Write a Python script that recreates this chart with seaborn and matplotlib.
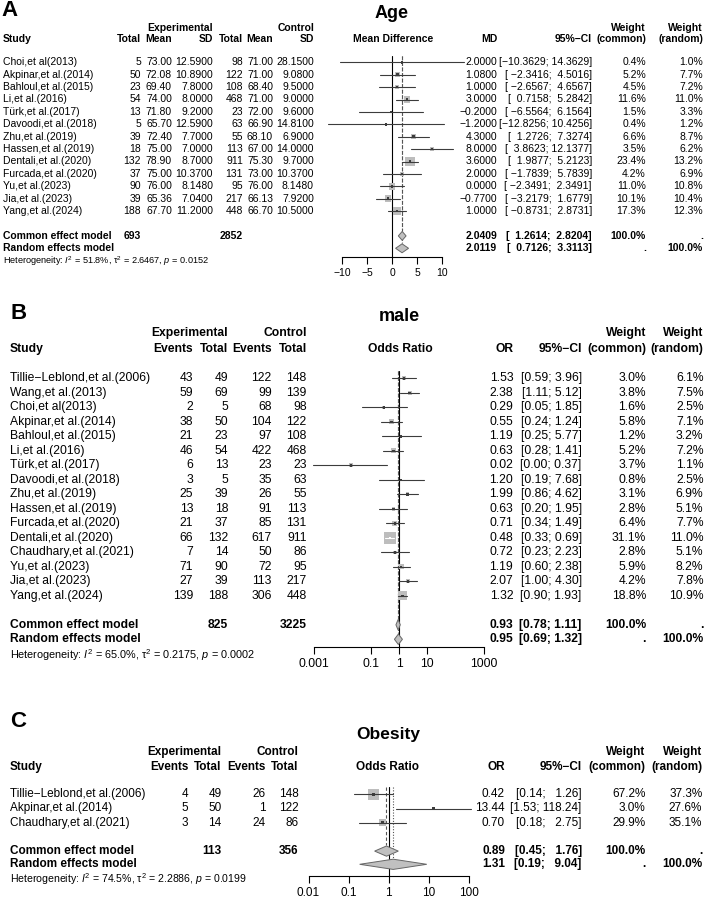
import numpy as np
import matplotlib.pyplot as plt
import matplotlib.transforms as mtransforms
from matplotlib.ticker import NullLocator
import seaborn as sns

M = "\u2212"

# ---------------- A : Age (mean difference) ----------------
studies_a = ["Choi,et al(2013)", "Akpinar,et al.(2014)", "Bahloul,et al.(2015)", "Li,et al.(2016)",
             "Türk,et al.(2017)", "Davoodi,et al.(2018)", "Zhu,et al.(2019)", "Hassen,et al.(2019)",
             "Dentali,et al.(2020)", "Furcada,et al.(2020)", "Yu,et al.(2023)", "Jia,et al.(2023)",
             "Yang,et al.(2024)"]
n_e_a = [5, 50, 23, 54, 13, 5, 39, 18, 132, 37, 90, 39, 188]
mean_e_a = [73.00, 72.08, 69.40, 74.00, 71.80, 65.70, 72.40, 75.00, 78.90, 75.00, 76.00, 65.36, 67.70]
sd_e_a = [12.59, 10.89, 7.80, 8.00, 9.20, 12.59, 7.70, 7.00, 8.70, 10.37, 8.148, 7.04, 11.20]
n_c_a = [98, 122, 108, 468, 23, 63, 55, 113, 911, 131, 95, 217, 448]
mean_c_a = [71.00, 71.00, 68.40, 71.00, 72.00, 66.90, 68.10, 67.00, 75.30, 73.00, 76.00, 66.13, 66.70]
sd_c_a = [28.15, 9.08, 9.50, 9.00, 9.60, 14.81, 6.90, 14.00, 9.70, 10.37, 8.148, 7.92, 10.50]
md_a = [2.0, 1.08, 1.0, 3.0, -0.2, -1.2, 4.3, 8.0, 3.6, 2.0, 0.0, -0.77, 1.0]
lo_a = [-10.3629, -2.3416, -2.6567, 0.7158, -6.5564, -12.8256, 1.2726, 3.8623, 1.9877, -1.7839,
        -2.3491, -3.2179, -0.8731]
hi_a = [14.3629, 4.5016, 4.6567, 5.2842, 6.1564, 10.4256, 7.3274, 12.1377, 5.2123, 5.7839,
        2.3491, 1.6779, 2.8731]
wc_a = [0.4, 5.2, 4.5, 11.6, 1.5, 0.4, 6.6, 3.5, 23.4, 4.2, 11.0, 10.1, 17.3]
wr_a = [1.0, 7.7, 7.2, 11.0, 3.3, 1.2, 8.7, 6.2, 13.2, 6.9, 10.8, 10.4, 12.3]
sum_est_a = [2.0409, 2.0119]
sum_lo_a = [1.2614, 0.7126]
sum_hi_a = [2.8204, 3.3113]
tot_a = [693, 2852]
het_a = ["51.8%", "2.6467", "0.0152"]

# ---------------- B : male (odds ratio) ----------------
studies_b = ["Tillie" + M + "Leblond,et al.(2006)", "Wang,et al.(2013)", "Choi,et al(2013)",
             "Akpinar,et al.(2014)", "Bahloul,et al.(2015)", "Li,et al.(2016)", "Türk,et al.(2017)",
             "Davoodi,et al.(2018)", "Zhu,et al.(2019)", "Hassen,et al.(2019)", "Furcada,et al.(2020)",
             "Dentali,et al.(2020)", "Chaudhary,et al.(2021)", "Yu,et al.(2023)", "Jia,et al.(2023)",
             "Yang,et al.(2024)"]
ev_e_b = [43, 59, 2, 38, 21, 46, 6, 3, 25, 13, 21, 66, 7, 71, 27, 139]
n_e_b = [49, 69, 5, 50, 23, 54, 13, 5, 39, 18, 37, 132, 14, 90, 39, 188]
ev_c_b = [122, 99, 68, 104, 97, 422, 23, 35, 26, 91, 85, 617, 50, 72, 113, 306]
n_c_b = [148, 139, 98, 122, 108, 468, 23, 63, 55, 113, 131, 911, 86, 95, 217, 448]
or_b = [1.53, 2.38, 0.29, 0.55, 1.19, 0.63, 0.02, 1.20, 1.99, 0.63, 0.71, 0.48, 0.72, 1.19, 2.07, 1.32]
lo_b = [0.59, 1.11, 0.05, 0.24, 0.25, 0.28, 0.0009, 0.19, 0.86, 0.20, 0.34, 0.33, 0.23, 0.60, 1.00, 0.90]
hi_b = [3.96, 5.12, 1.85, 1.24, 5.77, 1.41, 0.37, 7.68, 4.62, 1.95, 1.49, 0.69, 2.23, 2.38, 4.30, 1.93]
wc_b = [3.0, 3.8, 1.6, 5.8, 1.2, 5.2, 3.7, 0.8, 3.1, 2.8, 6.4, 31.1, 2.8, 5.9, 4.2, 18.8]
wr_b = [6.1, 7.5, 2.5, 7.1, 3.2, 7.2, 1.1, 2.5, 6.9, 5.1, 7.7, 11.0, 5.1, 8.2, 7.8, 10.9]
sum_est_b = [0.93, 0.95]
sum_lo_b = [0.78, 0.69]
sum_hi_b = [1.11, 1.32]
tot_b = [825, 3225]
het_b = ["65.0%", "0.2175", "0.0002"]

# ---------------- C : Obesity (odds ratio) ----------------
studies_c = ["Tillie" + M + "Leblond,et al.(2006)", "Akpinar,et al.(2014)", "Chaudhary,et al.(2021)"]
ev_e_c = [4, 5, 3]
n_e_c = [49, 50, 14]
ev_c_c = [26, 1, 24]
n_c_c = [148, 122, 86]
or_c = [0.42, 13.44, 0.70]
lo_c = [0.14, 1.53, 0.18]
hi_c = [1.26, 118.24, 2.75]
wc_c = [67.2, 3.0, 29.9]
wr_c = [37.3, 27.6, 35.1]
sum_est_c = [0.89, 1.31]
sum_lo_c = [0.45, 0.19]
sum_hi_c = [1.76, 9.04]
tot_c = [113, 356]
het_c = ["74.5%", "2.2886", "0.0199"]

sns.set_theme(style="ticks")
plt.rcParams["font.family"] = ["Liberation Sans", "DejaVu Sans"]
plt.rcParams["mathtext.fontset"] = "custom"
plt.rcParams["mathtext.rm"] = "Liberation Sans"
plt.rcParams["mathtext.it"] = "Liberation Sans:italic"
plt.rcParams["mathtext.bf"] = "Liberation Sans:bold"

W, H = 706, 898
fig = plt.figure(figsize=(W / 100, H / 100), dpi=100)


def fmt(v, d):
    return f"{v:.{d}f}".replace("-", M)


def ci_strings(lo, hi, d):
    los = [fmt(v, d) for v in lo]
    his = [fmt(v, d) for v in hi]
    wl = max(len(s) for s in los)
    wh = max(len(s) for s in his)
    return ["[" + a.rjust(wl) + "; " + b.rjust(wh) + "]" for a, b in zip(los, his)]


def make_ax(px0, px1, y0, dy, r_top, r_bot, log=False):
    ax = fig.add_axes([px0 / W, 1 - (y0 + r_bot * dy) / H, (px1 - px0) / W, (r_bot - r_top) * dy / H])
    if log:
        ax.set_xscale("log")
    ax.set_ylim(r_bot, r_top)
    ax.patch.set_alpha(0)
    for s in ["top", "left", "right"]:
        ax.spines[s].set_visible(False)
    ax.set_yticks([])
    return ax


def put(ax, px, row, s, size, ha="right", bold=False):
    tr = mtransforms.blended_transform_factory(fig.transFigure, ax.transData)
    ax.text(px / W, row, s, transform=tr, ha=ha, va="center", fontsize=size,
            fontweight="bold" if bold else "normal", color="black", clip_on=False)


def forest(ax, est, lo, hi, w, dy, null, common, random, r_common, r_random, r_axis):
    rows = np.arange(len(est))
    side = 0.8 * dy * np.sqrt(np.asarray(w) / max(w))
    ax.scatter(est, rows, s=(side * 0.72) ** 2, marker="s", color="#bdbdbd", linewidths=0,
               zorder=2, clip_on=False)
    cols = []
    for i in rows:
        xa = ax.transData.transform((lo[i], i))[0]
        xb = ax.transData.transform((hi[i], i))[0]
        c = "white" if (xb - xa) < side[i] else "#3c3c3c"
        cols.append(c)
        ax.plot([lo[i], hi[i]], [i, i], color=c, lw=0.8, zorder=3, clip_on=False)
    ax.scatter(est, rows, s=3, marker="s", color=cols, linewidths=0, zorder=4, clip_on=False)
    for r, (e, l, h) in [(r_common, common), (r_random, random)]:
        ax.fill([l, e, h, e], [r, r - 0.36, r, r + 0.36], facecolor="#c0c0c0", edgecolor="#666666",
                lw=0.7, zorder=3, clip_on=False)
    ax.plot([null, null], [-0.5, r_axis], color="black", lw=0.8, zorder=1, clip_on=False)
    ax.plot([common[0]] * 2, [-0.5, r_common - 0.4], color="#555555", lw=0.8, ls=(0, (3, 2)),
            zorder=1, clip_on=False)
    ax.plot([random[0]] * 2, [-0.5, r_random - 0.4], color="#555555", lw=0.8, ls=(0, (1, 1.5)),
            zorder=1, clip_on=False)


def x_axis(ax, r_axis, ticks, labels, size):
    sp = ax.spines["bottom"]
    sp.set_position(("data", r_axis))
    sp.set_bounds(ticks[0], ticks[-1])
    sp.set_color("black")
    sp.set_linewidth(0.8)
    ax.set_xticks(ticks)
    ax.set_xticklabels(labels)
    ax.xaxis.set_minor_locator(NullLocator())
    ax.tick_params(axis="x", bottom=True, direction="out", length=5, width=0.8, color="black",
                   labelsize=size, pad=3, labelcolor="black")


def het_text(ax, px, row, h, size):
    s = (r"Heterogeneity: $I^2$ = " + h[0] + r", $\mathrm{\tau}^2$ = " + h[1] + r", $p$ = " + h[2])
    put(ax, px, row, s, size, ha="left")


# ======== panel A ========
ya, da = 62.3, 12.4
ax_a = make_ax(315, 475, ya, da, -5, 18)
ax_a.set_xlim((315 - 392) / 5, (475 - 392) / 5)
fs = 7.5
put(ax_a, 1, -4.2, "A", 16, ha="left", bold=True)
put(ax_a, 392, -3.97, "Age", 13, ha="center", bold=True)
for px, s in [(213, "Experimental"), (314, "Control"), (646, "Weight"), (703, "Weight")]:
    put(ax_a, px, -2.77, s, fs, bold=True)
put(ax_a, 3, -1.88, "Study", fs, ha="left", bold=True)
put(ax_a, 393, -1.88, "Mean Difference", fs, ha="center", bold=True)
for px, s in [(141, "Total"), (172, "Mean"), (213, "SD"), (243, "Total"), (273, "Mean"), (314, "SD"),
              (497, "MD"), (592, "95%" + M + "CI"), (646, "(common)"), (703, "(random)")]:
    put(ax_a, px, -1.88, s, fs, bold=True)
ci_a = ci_strings(lo_a + sum_lo_a, hi_a + sum_hi_a, 4)
for i, name in enumerate(studies_a):
    put(ax_a, 3, i, name, fs, ha="left")
    put(ax_a, 141, i, str(n_e_a[i]), fs)
    put(ax_a, 172, i, fmt(mean_e_a[i], 2), fs)
    put(ax_a, 213, i, fmt(sd_e_a[i], 4), fs)
    put(ax_a, 243, i, str(n_c_a[i]), fs)
    put(ax_a, 273, i, fmt(mean_c_a[i], 2), fs)
    put(ax_a, 314, i, fmt(sd_c_a[i], 4), fs)
    put(ax_a, 497, i, fmt(md_a[i], 4), fs)
    put(ax_a, 592, i, ci_a[i], fs)
    put(ax_a, 646, i, fmt(wc_a[i], 1) + "%", fs)
    put(ax_a, 703, i, fmt(wr_a[i], 1) + "%", fs)
rc, rr = 14, 15
put(ax_a, 3, rc, "Common effect model", fs, ha="left", bold=True)
put(ax_a, 141, rc, str(tot_a[0]), fs, bold=True)
put(ax_a, 243, rc, str(tot_a[1]), fs, bold=True)
put(ax_a, 3, rr, "Random effects model", fs, ha="left", bold=True)
for k, r in enumerate([rc, rr]):
    put(ax_a, 497, r, fmt(sum_est_a[k], 4), fs, bold=True)
    put(ax_a, 592, r, ci_a[len(studies_a) + k], fs, bold=True)
put(ax_a, 646, rc, "100.0%", fs, bold=True)
put(ax_a, 703, rc, ".", fs, bold=True)
put(ax_a, 646, rr, ".", fs, bold=True)
put(ax_a, 703, rr, "100.0%", fs, bold=True)
het_text(ax_a, 3, 16.02, het_a, 6.6)
forest(ax_a, md_a, lo_a, hi_a, wc_a, da, 0,
       (sum_est_a[0], sum_lo_a[0], sum_hi_a[0]), (sum_est_a[1], sum_lo_a[1], sum_hi_a[1]), rc, rr, 15.7)
ticks_a = [-10, -5, 0, 5, 10]
x_axis(ax_a, 15.7, ticks_a, [fmt(t, 0) for t in ticks_a], fs)

# ======== panel B ========
yb, db = 378.3, 14.5
kb = 28.4
ax_b = make_ax(300, 495, yb, db, -5, 21, log=True)
ax_b.set_xlim(10 ** ((300 - 399) / kb), 10 ** ((495 - 399) / kb))
fs = 8.7
put(ax_b, 10, -4.5, "B", 16, ha="left", bold=True)
put(ax_b, 399, -4.23, "male", 13, ha="center", bold=True)
for px, s in [(228.3, "Experimental"), (306.7, "Control"), (646, "Weight"), (703.5, "Weight")]:
    put(ax_b, px, -3.12, s, fs, bold=True)
put(ax_b, 9.5, -2.02, "Study", fs, ha="left", bold=True)
put(ax_b, 400, -2.02, "Odds Ratio", fs, ha="center", bold=True)
for px, s in [(193.3, "Events"), (228.3, "Total"), (271.7, "Events"), (306.7, "Total"),
              (513.3, "OR"), (581.7, "95%" + M + "CI"), (646, "(common)"), (703.5, "(random)")]:
    put(ax_b, px, -2.02, s, fs, bold=True)
ci_b = ci_strings(lo_b + sum_lo_b, hi_b + sum_hi_b, 2)
for i, name in enumerate(studies_b):
    put(ax_b, 9.5, i, name, fs, ha="left")
    put(ax_b, 193.3, i, str(ev_e_b[i]), fs)
    put(ax_b, 228.3, i, str(n_e_b[i]), fs)
    put(ax_b, 271.7, i, str(ev_c_b[i]), fs)
    put(ax_b, 306.7, i, str(n_c_b[i]), fs)
    put(ax_b, 513.3, i, fmt(or_b[i], 2), fs)
    put(ax_b, 581.7, i, ci_b[i], fs)
    put(ax_b, 646, i, fmt(wc_b[i], 1) + "%", fs)
    put(ax_b, 703.5, i, fmt(wr_b[i], 1) + "%", fs)
rc, rr = 17, 18
put(ax_b, 9.5, rc, "Common effect model", fs, ha="left", bold=True)
put(ax_b, 228.3, rc, str(tot_b[0]), fs, bold=True)
put(ax_b, 306.7, rc, str(tot_b[1]), fs, bold=True)
put(ax_b, 9.5, rr, "Random effects model", fs, ha="left", bold=True)
for k, r in enumerate([rc, rr]):
    put(ax_b, 513.3, r, fmt(sum_est_b[k], 2), fs, bold=True)
    put(ax_b, 581.7, r, ci_b[len(studies_b) + k], fs, bold=True)
put(ax_b, 646, rc, "100.0%", fs, bold=True)
put(ax_b, 703.5, rc, ".", fs, bold=True)
put(ax_b, 646, rr, ".", fs, bold=True)
put(ax_b, 703.5, rr, "100.0%", fs, bold=True)
het_text(ax_b, 9.5, 19.1, het_b, 7.8)
forest(ax_b, or_b, lo_b, hi_b, wc_b, db, 1,
       (sum_est_b[0], sum_lo_b[0], sum_hi_b[0]), (sum_est_b[1], sum_lo_b[1], sum_hi_b[1]), rc, rr, 18.55)
ticks_b = [0.001, 0.1, 1, 10, 1000]
x_axis(ax_b, 18.55, ticks_b, ["0.001", "0.1", "1", "10", "1000"], fs)

# ======== panel C ========
yc, dc = 794.3, 14.2
kc = 40.0
ax_c = make_ax(295, 485, yc, dc, -6, 7, log=True)
ax_c.set_xlim(10 ** ((295 - 388.5) / kc), 10 ** ((485 - 388.5) / kc))
fs = 8.5
put(ax_c, 10, -5.1, "C", 16, ha="left", bold=True)
put(ax_c, 388.5, -4.18, "Obesity", 12.5, ha="center", bold=True)
for px, s in [(221.7, "Experimental"), (298.3, "Control"), (645.7, "Weight"), (702.3, "Weight")]:
    put(ax_c, px, -3.0, s, fs, bold=True)
put(ax_c, 9.5, -1.94, "Study", fs, ha="left", bold=True)
put(ax_c, 387.5, -1.94, "Odds Ratio", fs, ha="center", bold=True)
for px, s in [(188.3, "Events"), (221.7, "Total"), (265.7, "Events"), (298.3, "Total"),
              (505, "OR"), (581.7, "95%" + M + "CI"), (645.7, "(common)"), (702.3, "(random)")]:
    put(ax_c, px, -1.94, s, fs, bold=True)
ci_c = ci_strings(lo_c + sum_lo_c, hi_c + sum_hi_c, 2)
for i, name in enumerate(studies_c):
    put(ax_c, 9.5, i, name, fs, ha="left")
    put(ax_c, 188.3, i, str(ev_e_c[i]), fs)
    put(ax_c, 221.7, i, str(n_e_c[i]), fs)
    put(ax_c, 265.7, i, str(ev_c_c[i]), fs)
    put(ax_c, 298.3, i, str(n_c_c[i]), fs)
    put(ax_c, 505, i, fmt(or_c[i], 2), fs)
    put(ax_c, 581.7, i, ci_c[i], fs)
    put(ax_c, 645.7, i, fmt(wc_c[i], 1) + "%", fs)
    put(ax_c, 702.3, i, fmt(wr_c[i], 1) + "%", fs)
rc, rr = 4, 4.93
put(ax_c, 9.5, rc, "Common effect model", fs, ha="left", bold=True)
put(ax_c, 221.7, rc, str(tot_c[0]), fs, bold=True)
put(ax_c, 298.3, rc, str(tot_c[1]), fs, bold=True)
put(ax_c, 9.5, rr, "Random effects model", fs, ha="left", bold=True)
for k, r in enumerate([rc, rr]):
    put(ax_c, 505, r, fmt(sum_est_c[k], 2), fs, bold=True)
    put(ax_c, 581.7, r, ci_c[len(studies_c) + k], fs, bold=True)
put(ax_c, 645.7, rc, "100.0%", fs, bold=True)
put(ax_c, 702.3, rc, ".", fs, bold=True)
put(ax_c, 645.7, rr, ".", fs, bold=True)
put(ax_c, 702.3, rr, "100.0%", fs, bold=True)
het_text(ax_c, 9.5, 6.0, het_c, 7.6)
forest(ax_c, or_c, lo_c, hi_c, wc_c, dc, 1,
       (sum_est_c[0], sum_lo_c[0], sum_hi_c[0]), (sum_est_c[1], sum_lo_c[1], sum_hi_c[1]), rc, rr, 5.77)
ticks_c = [0.01, 0.1, 1, 10, 100]
x_axis(ax_c, 5.77, ticks_c, ["0.01", "0.1", "1", "10", "100"], fs)

fig.savefig("out.png", dpi=100)
plt.close(fig)
